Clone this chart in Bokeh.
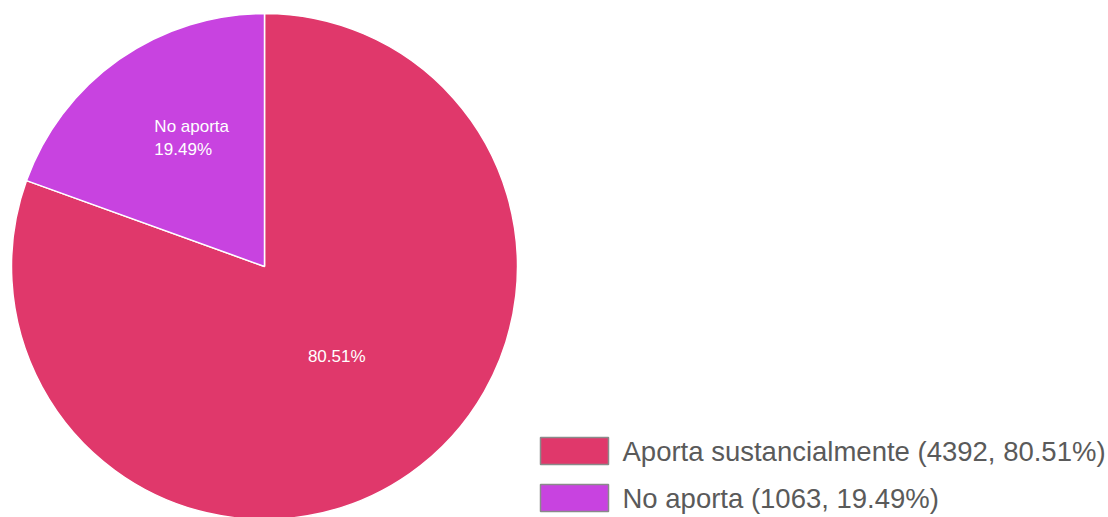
import numpy as np
from bokeh.plotting import figure
from bokeh.models import ColumnDataSource, Range1d
from bokeh.core.properties import value
from bokeh.embed import file_html
from bokeh.resources import INLINE

# ---- data ----
categories = ["Aporta sustancialmente", "No aporta"]
counts = [4392, 1063]
colors = ["#E0386B", "#C843E0"]
slice_labels_show_name = [False, True]

W, H = 1108, 517
FONT = "Liberation Sans"

total = sum(counts)
pct = [c / total * 100 for c in counts]

# angles: "No aporta" starts at top, counter-clockwise; "Aporta" fills the rest
span = [p / 100 * 2 * np.pi for p in pct]
start_no = np.pi / 2
end_no = start_no + span[1]
starts = [end_no, start_no]
ends = [end_no + span[0], end_no]

cx, cy, R = 264, H - 266, 253

p = figure(width=W, height=H, output_backend="svg", toolbar_location=None,
           x_range=Range1d(0, W), y_range=Range1d(0, H),
           x_axis_type=None, y_axis_type=None, min_border=0)
p.grid.visible = False
p.outline_line_color = None
p.background_fill_color = "white"

src = ColumnDataSource(dict(start=starts, end=ends, color=colors))
p.wedge(x=cx, y=cy, radius=R, start_angle="start", end_angle="end",
        fill_color="color", line_color="white", line_width=1.5, source=src)

# slice labels (layout: radial fraction + alignment nudge)
fracs = [0.435, 0.62]
x_nudge = [9, -20]
aligns = ["center", "left"]
for i in range(2):
    mid = (starts[i] + ends[i]) / 2
    x = cx + R * fracs[i] * np.cos(mid) + x_nudge[i]
    y = cy + R * fracs[i] * np.sin(mid)
    t = f"{pct[i]:.2f}%"
    if slice_labels_show_name[i]:
        t = f"{categories[i]}\n{t}"
    p.text(x=[x], y=[y], text=[t], text_color="white", text_font=value(FONT),
           text_font_size="17px", text_align=aligns[i], text_baseline="middle",
           text_line_height=1.2)

# legend
box_left, box_right = 540, 608
box_tops = [H - 437, H - 484]
box_h = 27
leg_text = [f"{categories[i]} ({counts[i]}, {pct[i]:.2f}%)" for i in range(2)]
p.quad(left=box_left, right=box_right,
       top=box_tops, bottom=[t - box_h for t in box_tops],
       fill_color=colors, line_color="#8a8a8a", line_width=1.5)
p.text(x=622, y=[t - box_h / 2 for t in box_tops], text=leg_text,
       text_color="#5a5a5a", text_font=value(FONT), text_font_size="27.5px",
       text_align="left", text_baseline="middle")

open("out.html", "w").write(file_html(p, INLINE))
